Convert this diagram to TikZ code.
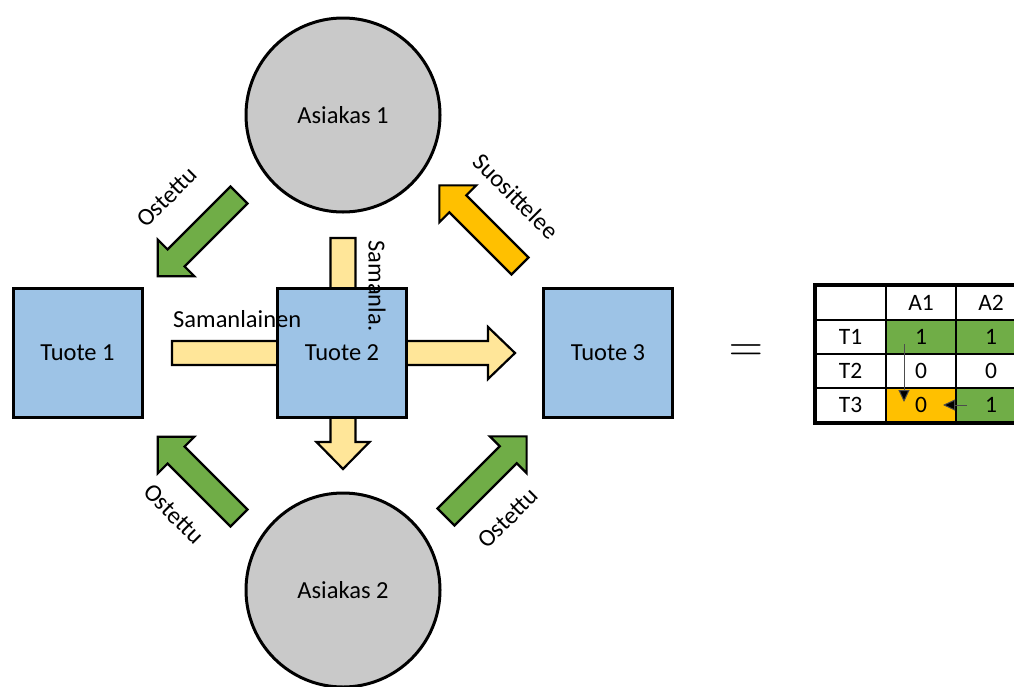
\documentclass[tikz,border=0pt]{standalone}
\usepackage{fontspec}
\setmainfont{Carlito}
\usetikzlibrary{arrows.meta,calc}
\definecolor{cgreen}{HTML}{70AD47}
\definecolor{corange}{HTML}{FFC000}
\definecolor{cyellow}{HTML}{FFE699}
\definecolor{cblue}{HTML}{9DC3E6}
\definecolor{cgray}{HTML}{C9C9C9}
\newcommand\blockarrow[7]{%
  \begin{scope}[shift={(#2)}, rotate=#3]
    \draw[#1] (0,-#5) -- ({#4-#7},-#5) -- ({#4-#7},-#6) -- (#4,0) -- ({#4-#7},#6) -- ({#4-#7},#5) -- (0,#5) -- cycle;
  \end{scope}}
\tikzset{
  mainfont/.style={font=\fontsize{24.5}{29}\selectfont},
  client/.style={circle, draw, line width=3pt, fill=cgray, minimum size=194pt, inner sep=0pt, mainfont},
  product/.style={rectangle, draw, line width=3pt, fill=cblue, minimum size=129pt, inner sep=0pt, mainfont},
  barrow/.style={draw, line width=2.2pt, line join=miter},
  lbl/.style={mainfont, inner sep=0pt},
  cell/.style={rectangle, draw, line width=2pt, minimum width=70pt, minimum height=34pt, inner sep=0pt, font=\fontsize{23.5}{28}\selectfont},
  tarrow/.style={draw=black!70, line width=1pt, -{Triangle[length=12pt,width=11pt,fill=black]}}
}
\begin{document}
\begin{tikzpicture}[x=1pt,y=-1pt]
\useasboundingbox (0,0) rectangle (1014,686);
\clip (0,0) rectangle (1014,686);
% clients
\node[client] (a1) at (343,115) {Asiakas 1};
\node[client] (a2) at (343,590) {Asiakas 2};
% tail coordinates of block arrows
\coordinate (gtl) at (239,195);
\coordinate (gbl) at (239,518);
\coordinate (gbr) at (446,517);
\coordinate (otr) at (520,266);
\coordinate (yh) at (172,353);
\coordinate (yv) at (343,238);
\blockarrow{barrow,fill=cgreen}{gtl}{-135}{115}{12}{26}{26}
\blockarrow{barrow,fill=cgreen}{gbl}{135}{115}{12}{26}{26}
\blockarrow{barrow,fill=cgreen}{gbr}{45}{114}{12}{26}{26}
\blockarrow{barrow,fill=corange}{otr}{135}{114}{12}{26}{26}
\blockarrow{barrow,fill=cyellow}{yh}{0}{343}{12}{26}{27}
\blockarrow{barrow,fill=cyellow}{yv}{-90}{231}{12.5}{26.5}{27}
% products
\node[product] (t1) at (77.5,352.5) {Tuote 1};
\node[product] (t2) at (342,352.5) {Tuote 2};
\node[product] (t3) at (608,352.5) {Tuote 3};
% labels
\node[lbl, anchor=base west] (ls) at (173,327) {Samanlainen};
\node[lbl, rotate=-90] (ls2) at (377,286) {Samanla.};
\node[lbl, rotate=45] (lo1) at (167,197) {Ostettu};
\node[lbl, rotate=-45] (lsu) at (516,196) {Suosittelee};
\node[lbl, rotate=-45] (lo2) at (174,514) {Ostettu};
\node[lbl, rotate=45] (lo3) at (508,518) {Ostettu};
\node[inner sep=0pt, font=\fontsize{24.88}{29}\selectfont] (eq) at (746,353) {\scalebox{1.9}{$=$}};
% table
\node[cell] (h0) at (850.5,302.5) {};
\node[cell] (h1) at (921,302.5) {A1};
\node[cell] (h2) at (991,302.5) {A2};
\node[cell] (r1) at (850.5,337) {T1};
\node[cell, fill=cgreen] (c11) at (921,337) {1};
\node[cell, fill=cgreen] (c12) at (991,337) {1};
\node[cell] (r2) at (850.5,371) {T2};
\node[cell] (c21) at (921,371) {0};
\node[cell] (c22) at (991,371) {0};
\node[cell] (r3) at (850.5,405) {T3};
\node[cell, fill=corange] (c31) at (921,405) {0};
\node[cell, fill=cgreen] (c32) at (991,405) {1};
\draw[line width=3pt] (h0.north west) rectangle (c32.south east);
\draw[tarrow] ($(c11.center)+(-17,7)$) -- ($(c31.center)+(-17,-3)$);
\draw[tarrow] ($(c32.center)+(-24,0)$) -- ($(c31.center)+(22,0)$);
\end{tikzpicture}
\end{document}
